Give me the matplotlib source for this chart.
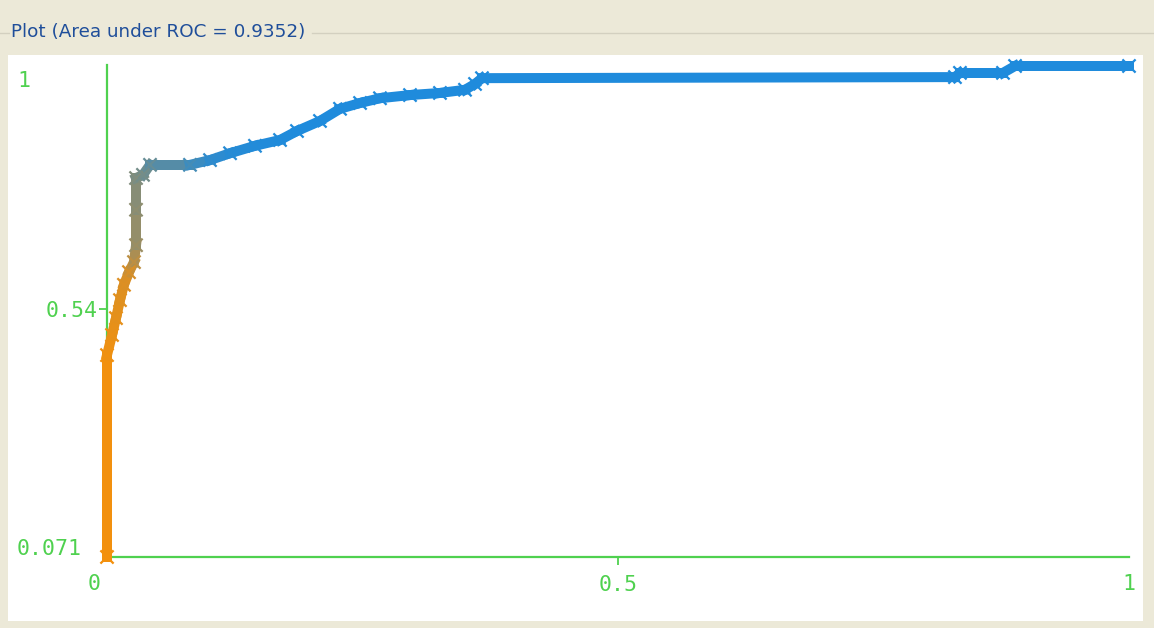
import numpy as np
import matplotlib
matplotlib.use("Agg")
import matplotlib.pyplot as plt
from matplotlib.collections import LineCollection
from matplotlib.patches import Rectangle
from matplotlib.lines import Line2D
from matplotlib.colors import LinearSegmentedColormap

# ---------------- data ----------------
title = "Plot (Area under ROC = 0.9352)"
x_ticks = [0.5]
x_tick_labels = ["0.5"]
y_ticks = [0.54]
y_tick_labels = ["0.54"]
x_range = (0.0, 1.0)
y_range = (0.071, 1.0)

fpr = [0.0, 0.0, 0.0049, 0.0088, 0.0127, 0.0166, 0.0215, 0.0264, 0.0284,
       0.0284, 0.0284, 0.0352, 0.0421, 0.0812, 0.1008, 0.1204, 0.1448,
       0.1693, 0.1859, 0.2084, 0.2280, 0.2476, 0.2671, 0.2965, 0.3258,
       0.3503, 0.3601, 0.3669, 0.8297, 0.8346, 0.8767, 0.8885, 1.0]
tpr = [0.071, 0.453, 0.491, 0.523, 0.557, 0.586, 0.610, 0.629, 0.661,
       0.728, 0.788, 0.794, 0.813, 0.813, 0.822, 0.835, 0.849,
       0.860, 0.877, 0.896, 0.919, 0.930, 0.939, 0.945, 0.949,
       0.955, 0.966, 0.977, 0.979, 0.987, 0.987, 1.0, 1.0]
threshold = [1.0, 0.98, 0.95, 0.93, 0.91, 0.89, 0.86, 0.74, 0.58,
             0.52, 0.46, 0.40, 0.33, 0.18, 0.08, 0.04, 0.02,
             0.01, 0.0, 0.0, 0.0, 0.0, 0.0, 0.0, 0.0,
             0.0, 0.0, 0.0, 0.0, 0.0, 0.0, 0.0, 0.0]

# ---------------- styling ----------------
W, H = 1154, 628
BG = "#ece9d8"
GREEN = "#4fd14f"
TITLE_C = "#1f4e9a"
cmap = LinearSegmentedColormap.from_list("weka", ["#1f8bdc", "#f4900c"])

fig = plt.figure(figsize=(W / 100, H / 100), dpi=100, facecolor=BG)

def px(x):
    return x / W

def py(y):
    return 1 - y / H

# white panel
fig.add_artist(Rectangle((px(8), py(621)), px(1143) - px(8), py(55) - py(621),
                         transform=fig.transFigure, facecolor="white",
                         edgecolor="none", zorder=0))
# group-box line and title
fig.add_artist(Line2D([px(0), px(9)], [py(33), py(33)], transform=fig.transFigure,
                      color="#d3d0c0", lw=1))
fig.add_artist(Line2D([px(312), px(1154)], [py(33), py(33)], transform=fig.transFigure,
                      color="#d3d0c0", lw=1))
fig.text(px(11), py(32), title, color=TITLE_C, fontsize=13.2,
         family="DejaVu Sans", va="center", ha="left")

ax = fig.add_axes([px(107), py(557), px(1129) - px(107), py(66) - py(557)])
ax.set_facecolor("none")
ax.set_xlim(*x_range)
ax.set_ylim(*y_range)
for s in ("top", "right"):
    ax.spines[s].set_visible(False)
for s in ("left", "bottom"):
    ax.spines[s].set_color(GREEN)
    ax.spines[s].set_linewidth(1.6)
ax.spines["left"].set_bounds(y_range[0], 1.002)

ax.set_xticks(x_ticks)
ax.set_xticklabels(x_tick_labels)
ax.set_yticks(y_ticks)
ax.set_yticklabels(y_tick_labels)
ax.tick_params(axis="both", direction="out", length=6, width=1.3, color=GREEN,
               labelcolor=GREEN, labelsize=15.5)
ax.tick_params(axis="x", pad=7)
ax.tick_params(axis="y", pad=1)
for lab in ax.get_xticklabels() + ax.get_yticklabels():
    lab.set_family("DejaVu Sans Mono")

# end labels without tick marks
lab_kw = dict(color=GREEN, fontsize=15.5, family="DejaVu Sans Mono",
              textcoords="offset pixels", annotation_clip=False)
ax.annotate("0", xy=(x_range[0], y_range[0]), xycoords="data", xytext=(-13, -27),
            ha="center", va="center", **lab_kw)
ax.annotate("1", xy=(x_range[1], y_range[0]), xycoords="data", xytext=(0, -27),
            ha="center", va="center", **lab_kw)
ax.annotate("1", xy=(x_range[0], y_range[1]), xycoords="data", xytext=(-90, -15),
            ha="left", va="center", **lab_kw)
ax.annotate("0.071", xy=(x_range[0], y_range[0]), xycoords="data", xytext=(-90, 8),
            ha="left", va="center", **lab_kw)

# ROC curve coloured by threshold
pts = np.column_stack([fpr, tpr])
segs = np.stack([pts[:-1], pts[1:]], axis=1)
thr = np.asarray(threshold)
seg_c = cmap((thr[:-1] + thr[1:]) / 2)
lc = LineCollection(segs, colors=seg_c, linewidths=7.2, capstyle="projecting",
                    joinstyle="miter", zorder=5, clip_on=False)
ax.add_collection(lc)
ax.scatter(fpr, tpr, marker="x", s=90, c=cmap(thr), linewidths=1.6, zorder=6,
           clip_on=False)

fig.savefig("out.png", dpi=100, facecolor=BG)
